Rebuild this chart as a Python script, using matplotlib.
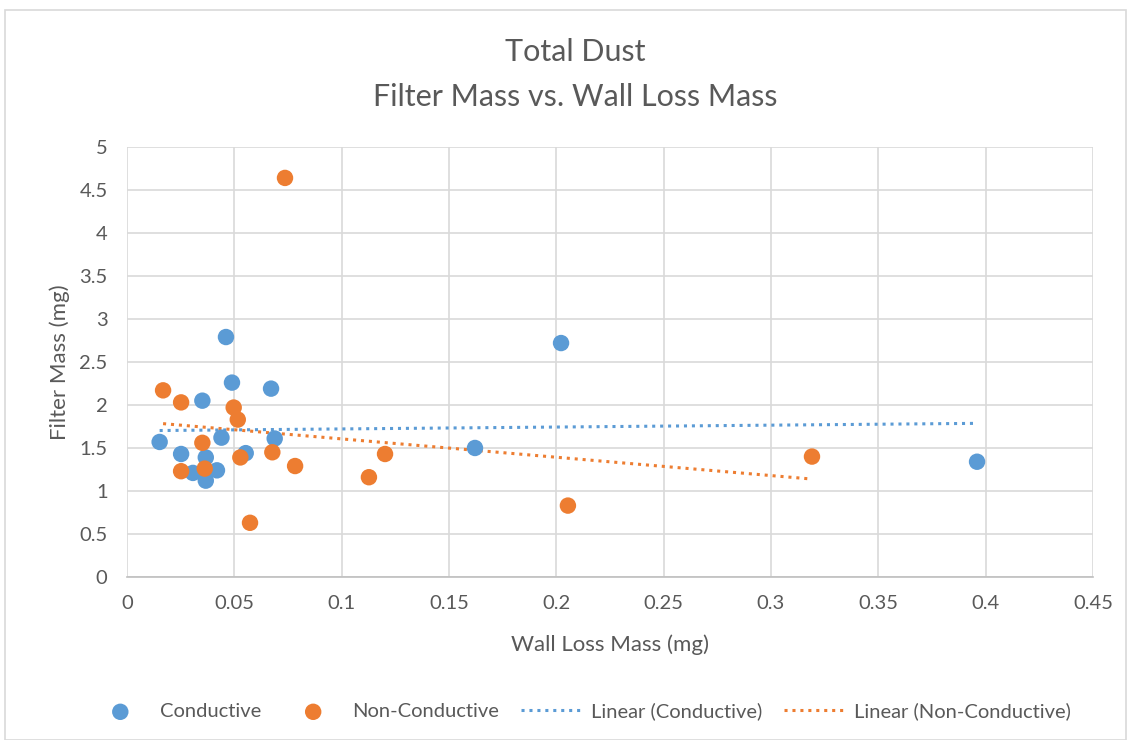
import numpy as np
import matplotlib
matplotlib.use("Agg")
import matplotlib.pyplot as plt
from matplotlib.patches import Rectangle

# Wall loss mass (mg) and filter mass (mg)
cond_x = [0.0461, 0.0489, 0.0671, 0.0351, 0.0152, 0.0440, 0.0688, 0.0252,
          0.0367, 0.0553, 0.0307, 0.0419, 0.0367, 0.1621, 0.2022, 0.3960]
cond_y = [2.79, 2.26, 2.19, 2.05, 1.57, 1.62, 1.61, 1.43,
          1.39, 1.44, 1.21, 1.24, 1.12, 1.50, 2.72, 1.34]

nonc_x = [0.0168, 0.0252, 0.0497, 0.0516, 0.0351, 0.0528, 0.0677, 0.0783,
          0.0252, 0.0362, 0.0573, 0.0736, 0.1127, 0.1202, 0.2054, 0.3191]
nonc_y = [2.17, 2.03, 1.97, 1.83, 1.56, 1.39, 1.45, 1.29,
          1.23, 1.26, 0.63, 4.64, 1.16, 1.43, 0.83, 1.40]

xticks = [0, 0.05, 0.1, 0.15, 0.2, 0.25, 0.3, 0.35, 0.4, 0.45]
xticklabels = ["0", "0.05", "0.1", "0.15", "0.2", "0.25", "0.3", "0.35", "0.4", "0.45"]
yticks = [0, 0.5, 1, 1.5, 2, 2.5, 3, 3.5, 4, 4.5, 5]
yticklabels = ["0", "0.5", "1", "1.5", "2", "2.5", "3", "3.5", "4", "4.5", "5"]

blue = "#5B9BD5"
orange = "#ED7D31"
grey = "#595959"

plt.rcParams['font.family'] = ['Lato', 'DejaVu Sans']

fig = plt.figure(figsize=(11.27, 7.40), dpi=100)
fig.patches.append(Rectangle((0.004, 0.0), 0.995, 0.986, transform=fig.transFigure,
                             fill=False, edgecolor="#D9D9D9", linewidth=1.2))
ax = fig.add_axes([0.1127, 0.2203, 0.8571, 0.5811])

ax.scatter(cond_x, cond_y, s=140, color=blue, zorder=3, label="Conductive",
           edgecolors="none")
ax.scatter(nonc_x, nonc_y, s=140, color=orange, zorder=3, label="Non-Conductive",
           edgecolors="none")

for xs, ys, c, name in [(cond_x, cond_y, blue, "Linear (Conductive)"),
                        (nonc_x, nonc_y, orange, "Linear (Non-Conductive)")]:
    m, b = np.polyfit(xs, ys, 1)
    lx = np.array([min(xs), max(xs)])
    ax.plot(lx, m * lx + b, color=c, linestyle=(0, (1, 1.6)), linewidth=2.2,
            zorder=2, label=name)

ax.set_xlim(0, 0.45)
ax.set_ylim(0, 5)
ax.set_xticks(xticks)
ax.set_xticklabels(xticklabels)
ax.set_yticks(yticks)
ax.set_yticklabels(yticklabels)
ax.grid(True, color="#D9D9D9", linewidth=1.2, zorder=0)
ax.set_axisbelow(True)
for side in ["left", "right", "top"]:
    ax.spines[side].set_visible(False)
ax.spines["bottom"].set_color("#BFBFBF")
ax.spines["bottom"].set_linewidth(1.2)
ax.tick_params(length=0, labelsize=14.5, labelcolor=grey)
ax.tick_params(axis="x", pad=13)
ax.tick_params(axis="y", pad=14)

ax.set_xlabel("Wall Loss Mass (mg)", fontsize=16, color=grey)
ax.set_ylabel("Filter Mass (mg)", fontsize=16, color=grey)
ax.xaxis.set_label_coords(0.5, -0.133)
ax.yaxis.set_label_coords(-0.059, 0.5)
fig.text(0.510, 0.930, "Total Dust", ha="center", va="center", fontsize=22, color=grey)
fig.text(0.510, 0.869, "Filter Mass vs. Wall Loss Mass", ha="center", va="center",
         fontsize=22, color=grey)

fig.legend(loc="center", bbox_to_anchor=(0.515, 0.039), ncol=4, frameon=False,
           fontsize=14.5, labelcolor=grey, handlelength=3.0, columnspacing=1.1,
           handletextpad=0.45)

fig.savefig("out.png", dpi=100, facecolor="white")
